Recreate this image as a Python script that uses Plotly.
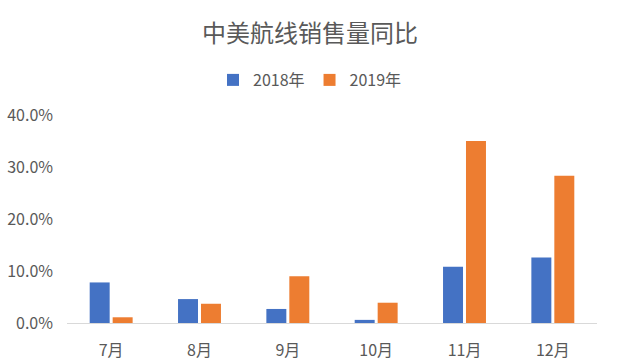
import plotly.graph_objects as go

months = ["7月", "8月", "9月", "10月", "11月", "12月"]
series_names = ["2018年", "2019年"]
values_2018 = [7.8, 4.6, 2.7, 0.6, 10.8, 12.6]
values_2019 = [1.1, 3.7, 9.0, 3.9, 35.0, 28.3]
y_ticks = [0, 10, 20, 30, 40]
y_tick_labels = ["0.0%", "10.0%", "20.0%", "30.0%", "40.0%"]

colors = ["#4472C4", "#ED7D31"]
font_family = "Noto Sans CJK SC, Noto Sans, sans-serif"

fig = go.Figure()
for name, vals, c in zip(series_names, [values_2018, values_2019], colors):
    fig.add_trace(go.Bar(x=months, y=vals, name=name, marker=dict(color=c, line=dict(width=0))))

fig.update_layout(
    width=620, height=362,
    margin=dict(l=67, r=23, t=115, b=39, autoexpand=False),
    paper_bgcolor="white", plot_bgcolor="white",
    barmode="group", bargap=0.48, bargroupgap=0.13,
    font=dict(family=font_family, color="#595959", size=15),
    title=dict(text="中美航线销售量同比", x=0.5, xanchor="center", xref="container",
               y=1 - 34 / 362, yanchor="middle", yref="container",
               font=dict(size=24, color="#595959", family=font_family)),
    legend=dict(orientation="h", x=0.5, xanchor="center", xref="container",
                y=1 - 80 / 362, yanchor="middle", yref="container",
                font=dict(size=16, color="#595959"), itemwidth=30, traceorder="normal"),
    xaxis=dict(showgrid=False, showline=True, linecolor="#D9D9D9", linewidth=1,
               ticks="", tickfont=dict(size=16, color="#595959"), ticklabelstandoff=13),
    yaxis=dict(range=[0, 40], tickvals=y_ticks, ticktext=y_tick_labels, showgrid=False,
               zeroline=False, showline=False, ticks="", tickfont=dict(size=16, color="#595959"),
               ticklabelstandoff=13),
)

fig.write_html("out.html", config={"displayModeBar": False},
               post_script="document.body.style.margin='0';")
